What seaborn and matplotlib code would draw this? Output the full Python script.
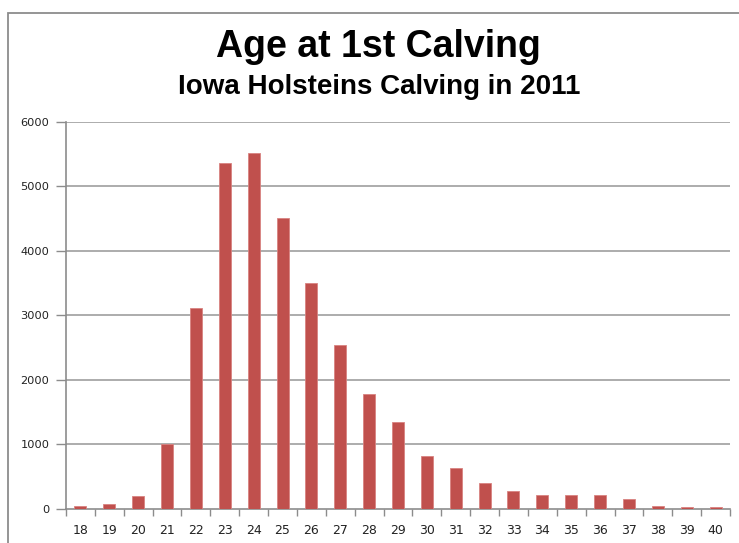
import matplotlib
matplotlib.use("Agg")
import matplotlib.pyplot as plt
import seaborn as sns
import pandas as pd
from matplotlib.patches import Rectangle

ages = ["18", "19", "20", "21", "22", "23", "24", "25", "26", "27", "28", "29",
        "30", "31", "32", "33", "34", "35", "36", "37", "38", "39", "40"]
counts = [42, 78, 190, 1000, 3120, 5370, 5515, 4505, 3500, 2540, 1783, 1345,
          815, 625, 395, 280, 207, 207, 207, 150, 42, 22, 22]
y_ticks = [0, 1000, 2000, 3000, 4000, 5000, 6000]
title = "Age at 1st Calving"
subtitle = "Iowa Holsteins Calving in 2011"

df = pd.DataFrame({"age": ages, "count": counts})

sns.set_theme(style="white")
plt.rcParams['font.family'] = ['DejaVu Sans']

fig = plt.figure(figsize=(7.39, 5.43), dpi=100)
ax = fig.add_axes([66/739, 1 - 508.7/543, (730 - 66)/739, (508.7 - 122)/543])

sns.barplot(data=df, x="age", y="count", color="#C0504D", saturation=1,
            width=0.415, ax=ax, edgecolor="#D98280", linewidth=0.6, zorder=3)

ax.set_xlim(-0.5, len(ages) - 0.5)
ax.set_ylim(0, 6000)
ax.set_yticks(y_ticks)
ax.set_yticklabels([str(v) for v in y_ticks], fontsize=8.2, color="#222222")
ax.set_xlabel("")
ax.set_ylabel("")

# gridlines
for v in y_ticks[1:]:
    ax.axhline(v, color="#A6A6A6", lw=1.3, zorder=1)

for s in ["top", "right"]:
    ax.spines[s].set_visible(False)
for s in ["left", "bottom"]:
    ax.spines[s].set_color("#8C8C8C")
    ax.spines[s].set_linewidth(1.2)

# x tick marks at category boundaries, labels at centers
ax.set_xticks([i - 0.5 for i in range(len(ages) + 1)], minor=False)
ax.set_xticklabels([])
ax.set_xticks(range(len(ages)), minor=True)
ax.set_xticklabels(ages, minor=True, fontsize=9, color="#222222")
ax.tick_params(axis="x", which="major", direction="out", length=5, width=1.0,
               color="#8C8C8C", bottom=True)
ax.tick_params(axis="x", which="minor", length=0, pad=11, bottom=True)
ax.tick_params(axis="y", direction="out", length=7, width=1.0, color="#8C8C8C",
               left=True, pad=5)

fig.text(378/739, 1 - 57.3/543, title, ha="center", va="baseline",
         fontsize=27, fontweight="bold", family="Liberation Sans", color="black")
fig.text(379/739, 1 - 94/543, subtitle, ha="center", va="baseline",
         fontsize=20, fontweight="bold", family="Liberation Sans", color="black")

fig.patches.append(Rectangle((8/739, -0.05), 1.0, 1 - 12.7/543 + 0.05,
                             transform=fig.transFigure, fill=False,
                             edgecolor="#8C8C8C", lw=1.3, zorder=0))

fig.savefig("out.png", dpi=100)
